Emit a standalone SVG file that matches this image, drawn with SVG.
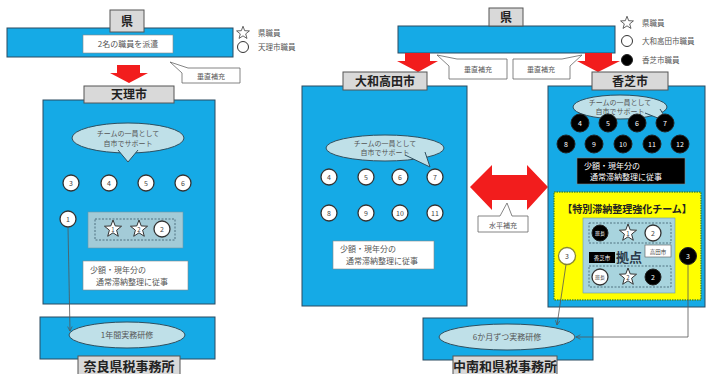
<svg xmlns="http://www.w3.org/2000/svg" width="706" height="374" viewBox="0 0 706 374">
<defs>
<style>
text{font-family:"Noto Sans CJK JP","Noto Sans",sans-serif;fill:#333}
.blue{fill:#15aae6;stroke:#2a4a60;stroke-width:1}
.lbl{fill:#d9d9d9;stroke:#555;stroke-width:1}
.lt{font-size:12px;font-weight:bold;fill:#222;text-anchor:middle}
.wbox{fill:#fff;stroke:#888;stroke-width:0.6}
.sm{font-size:7.5px;fill:#555}
.smc{font-size:7px;fill:#555;text-anchor:middle}
.ell{fill:#bfe0e8;stroke:#2f4f5f;stroke-width:1}
.wc{fill:#fff;stroke:#333;stroke-width:1.3}
.bc{fill:#000;stroke:#222;stroke-width:1}
.num{font-size:7px;text-anchor:middle;fill:#444}
.numw{font-size:7px;text-anchor:middle;fill:#fff}
.star{fill:#fff;stroke:#333;stroke-width:1}
.red{fill:#f21d1d}
.co{fill:#fff;stroke:#666;stroke-width:0.8}
.conn{fill:none;stroke:#555;stroke-width:0.8}
.dash{fill:none;stroke:#3a5a6a;stroke-width:0.8;stroke-dasharray:2,1.5}
.leg{font-size:7.5px;fill:#555}
</style>
<polygon id="st" points="0,-9 2.23,-3.07 8.56,-2.78 3.61,1.17 5.29,7.28 0,3.8 -5.29,7.28 -3.61,1.17 -8.56,-2.78 -2.23,-3.07"/>
<marker id="ar" viewBox="0 0 10 10" refX="9" refY="5" markerWidth="7" markerHeight="7" orient="auto">
<path d="M1,1 L9,5 L1,9" fill="none" stroke="#555" stroke-width="1.3"/>
</marker>
</defs>
<rect width="706" height="374" fill="#fff"/>

<!-- LEFT: 県 -->
<g id="ken-left">
<rect class="blue" x="7" y="28" width="226" height="29"/>
<rect class="lbl" x="110" y="10" width="34" height="22"/>
<text class="lt" x="127" y="26">県</text>
<rect class="wbox" x="83" y="35" width="90" height="18"/>
<text class="smc" x="128" y="47" style="font-size:8px">2名の職員を派遣</text>
</g>
<g id="legend-left">
<use href="#st" class="star" transform="translate(243,33) scale(0.75)"/>
<text class="leg" x="258" y="36">県職員</text>
<circle class="wc" cx="243" cy="47" r="5.5" style="stroke-width:1"/>
<text class="leg" x="258" y="50">天理市職員</text>
</g>
<g id="arrow-left">
<polygon class="red" points="117,65 140,65 140,73 148,73 129,83 110,73 117,73"/>
</g>
<g id="callout-left">
<path class="co" d="M188,68 H240 V83 H182 V73 L170,62 Z"/>
<text class="smc" x="211" y="79">垂直補充</text>
</g>

<!-- 天理市 -->
<g id="tenri">
<rect class="blue" x="43" y="100" width="172" height="204"/>
<rect class="lbl" x="84" y="86" width="90" height="17"/>
<text class="lt" x="129" y="99">天理市</text>
<ellipse class="ell" cx="128" cy="138" rx="56" ry="15"/>
<path class="ell" d="M118,150 L128,162 L138,150"/>
<text class="smc" x="128" y="136">チームの一員として</text>
<text class="smc" x="128" y="146">自市でサポート</text>
<circle class="wc" cx="71" cy="183" r="8"/><text class="num" x="71" y="185.5">3</text>
<circle class="wc" cx="109" cy="183" r="8"/><text class="num" x="109" y="185.5">4</text>
<circle class="wc" cx="146" cy="183" r="8"/><text class="num" x="146" y="185.5">5</text>
<circle class="wc" cx="183" cy="183" r="8"/><text class="num" x="183" y="185.5">6</text>
<circle class="wc" cx="68" cy="219" r="8"/><text class="num" x="68" y="221.5">1</text>
<rect x="88" y="212" width="95" height="36" fill="#a3cbd7" stroke="#6a98a8" stroke-width="0.6"/>
<rect class="dash" x="95" y="219" width="80" height="21"/>
<use href="#st" class="star" x="113" y="229"/><text class="num" x="113" y="232" style="font-size:6px">1</text>
<use href="#st" class="star" x="139" y="229"/><text class="num" x="139" y="232" style="font-size:6px">2</text>
<circle class="wc" cx="162" cy="229" r="8"/><text class="num" x="162" y="231.5">2</text>
<rect class="wbox" x="83" y="261" width="105" height="29"/>
<text class="sm" x="90" y="273" style="font-size:8px">少額・現年分の</text>
<text class="sm" x="96" y="285" style="font-size:8px">通常滞納整理に従事</text>
</g>

<!-- 奈良県税事務所 -->
<g id="nara">
<rect class="blue" x="40" y="317" width="175" height="42"/>
<ellipse class="ell" cx="127" cy="335" rx="58" ry="13"/>
<text class="smc" x="127" y="338" style="font-size:8px">1年間実務研修</text>
<rect class="lbl" x="78" y="356" width="102" height="22"/>
<text class="lt" x="129" y="371" style="font-size:13px">奈良県税事務所</text>
</g>

<!-- RIGHT: 県 -->
<g id="ken-right">
<rect class="blue" x="398" y="26" width="217" height="27"/>
<rect class="lbl" x="489" y="8" width="34" height="18"/>
<text class="lt" x="506" y="22">県</text>
</g>
<g id="legend-right">
<use href="#st" class="star" transform="translate(627,23) scale(0.75)"/>
<text class="leg" x="642" y="26">県職員</text>
<circle class="wc" cx="627" cy="41" r="5.5" style="stroke-width:1"/>
<text class="leg" x="642" y="44">大和高田市職員</text>
<circle class="bc" cx="627" cy="60" r="5.5"/>
<text class="leg" x="642" y="63">香芝市職員</text>
</g>
<g id="arrows-right">
<polygon class="red" points="405,53 430,53 430,61 438,61 418,72 397,61 405,61"/>
<polygon class="red" points="585,53 612,53 612,61 620,61 598,72 577,61 585,61"/>
</g>
<g id="callouts-right">
<path class="co" d="M457,59 H507 V79 H449 V66 L437,55 Z"/>
<text class="smc" x="478" y="72">垂直補充</text>
<path class="co" d="M513,59 H562 L582,55 L570,66 V79 H513 Z"/>
<text class="smc" x="541" y="72">垂直補充</text>
</g>

<!-- 大和高田市 -->
<g id="takada">
<rect class="blue" x="302" y="86" width="165" height="220"/>
<rect class="lbl" x="343" y="72" width="84" height="18"/>
<text class="lt" x="385" y="86">大和高田市</text>
<ellipse class="ell" cx="385" cy="148" rx="59" ry="13"/>
<path class="ell" d="M405,155 L430,167 L425,152"/>
<text class="smc" x="385" y="146">チームの一員として</text>
<text class="smc" x="385" y="155">自市でサポート</text>
<circle class="wc" cx="329" cy="177" r="8"/><text class="num" x="329" y="179.5">4</text>
<circle class="wc" cx="366" cy="177" r="8"/><text class="num" x="366" y="179.5">5</text>
<circle class="wc" cx="400" cy="177" r="8"/><text class="num" x="400" y="179.5">6</text>
<circle class="wc" cx="435" cy="177" r="8"/><text class="num" x="435" y="179.5">7</text>
<circle class="wc" cx="329" cy="213" r="8"/><text class="num" x="329" y="215.5">8</text>
<circle class="wc" cx="366" cy="213" r="8"/><text class="num" x="366" y="215.5">9</text>
<circle class="wc" cx="400" cy="213" r="8"/><text class="num" x="400" y="215.5">10</text>
<circle class="wc" cx="435" cy="213" r="8"/><text class="num" x="435" y="215.5">11</text>
<rect class="wbox" x="333" y="241" width="101" height="28"/>
<text class="sm" x="340" y="252" style="font-size:8px">少額・現年分の</text>
<text class="sm" x="346" y="264" style="font-size:8px">通常滞納整理に従事</text>
</g>

<!-- 水平補充 -->
<g id="horizontal">
<polygon class="red" points="470,187 492,165 492,175 527,175 527,165 548,187 527,210 527,200 492,200 492,210"/>
<path class="co" d="M478,216 H500 L507,203 L512,216 H528 V232 H478 Z"/>
<text class="smc" x="503" y="228">水平補充</text>
</g>

<!-- 香芝市 -->
<g id="kashiba">
<rect class="blue" x="548" y="86" width="157" height="221"/>
<rect class="lbl" x="592" y="72" width="76" height="18"/>
<text class="lt" x="630" y="86">香芝市</text>
<ellipse class="ell" cx="620" cy="107" rx="47" ry="12"/>
<path class="ell" d="M645,113 L668,122 L660,109"/>
<text class="smc" x="620" y="105">チームの一員として</text>
<text class="smc" x="620" y="114">自市でサポート</text>
<circle class="bc" cx="580" cy="123" r="9"/><text class="numw" x="580" y="125.5">4</text>
<circle class="bc" cx="608" cy="123" r="9"/><text class="numw" x="608" y="125.5">5</text>
<circle class="bc" cx="637" cy="123" r="9"/><text class="numw" x="637" y="125.5">6</text>
<circle class="bc" cx="665" cy="123" r="9"/><text class="numw" x="665" y="125.5">7</text>
<circle class="bc" cx="566" cy="144" r="9"/><text class="numw" x="566" y="146.5">8</text>
<circle class="bc" cx="594" cy="144" r="9"/><text class="numw" x="594" y="146.5">9</text>
<circle class="bc" cx="623" cy="144" r="9"/><text class="numw" x="623" y="146.5">10</text>
<circle class="bc" cx="652" cy="144" r="9"/><text class="numw" x="652" y="146.5">11</text>
<circle class="bc" cx="680" cy="144" r="9"/><text class="numw" x="680" y="146.5">12</text>
<rect x="577" y="158" width="108" height="26" fill="#000" stroke="#888" stroke-width="0.6"/>
<text x="584" y="169" style="font-size:8px;fill:#fff">少額・現年分の</text>
<text x="590" y="180" style="font-size:8px;fill:#fff">通常滞納整理に従事</text>
</g>

<!-- 特別滞納整理強化チーム -->
<g id="team">
<rect x="554" y="192" width="147" height="108" fill="#ffff00" stroke="#3d8a3d" stroke-width="1.4" stroke-dasharray="1.5,1"/>
<text x="627" y="213" style="font-size:10px;font-weight:bold;fill:#222;text-anchor:middle">【特別滞納整理強化チーム】</text>
<rect x="583" y="218" width="92" height="75" fill="#a8d4de" stroke="#6a98a8" stroke-width="0.6"/>
<rect class="dash" x="589" y="223" width="82" height="20"/>
<circle class="bc" cx="600" cy="233" r="8"/><text class="numw" x="600" y="235" style="font-size:5px">班長</text>
<use href="#st" class="star" x="628" y="233"/><text class="num" x="628" y="236" style="font-size:6px">1</text>
<circle class="wc" cx="653" cy="233" r="8"/><text class="num" x="653" y="235.5">2</text>
<rect x="589" y="252" width="26" height="11" fill="#000"/>
<text x="602" y="260" style="font-size:5.5px;fill:#fff;text-anchor:middle">香芝市</text>
<text x="629" y="262" style="font-size:13px;font-weight:bold;fill:#2a3a4a;text-anchor:middle">拠点</text>
<rect x="645" y="245" width="26" height="12" fill="#fff" stroke="#555" stroke-width="0.6"/>
<text x="658" y="253.5" style="font-size:5.5px;fill:#444;text-anchor:middle">高田市</text>
<rect class="dash" x="589" y="266" width="82" height="21"/>
<circle class="wc" cx="600" cy="277" r="8"/><text class="num" x="600" y="279" style="font-size:5px">班長</text>
<use href="#st" class="star" x="628" y="277"/><text class="num" x="628" y="280" style="font-size:6px">2</text>
<circle class="bc" cx="653" cy="277" r="8"/><text class="numw" x="653" y="279.5">2</text>
<circle class="wc" cx="567" cy="256" r="8.5" style="stroke:#8a8a30"/><text class="num" x="567" y="258.5">3</text>
<circle class="bc" cx="688" cy="256" r="8.5"/><text class="numw" x="688" y="258.5">3</text>
</g>

<!-- 中南和県税事務所 -->
<g id="chunanwa">
<rect class="blue" x="423" y="318" width="170" height="42"/>
<ellipse class="ell" cx="507" cy="337" rx="68" ry="13"/>
<text class="smc" x="507" y="340" style="font-size:8px">6か月ずつ実務研修</text>
<rect class="lbl" x="453" y="356" width="104" height="22"/>
<text class="lt" x="505" y="371" style="font-size:13px">中南和県税事務所</text>
</g>

<!-- connectors -->
<g id="connectors">
<path class="conn" d="M68,227 L70,331" marker-end="url(#ar)"/>
<path class="conn" d="M566,264.5 L557,325" marker-end="url(#ar)"/>
<path class="conn" d="M688,264.5 V337 H576" marker-end="url(#ar)"/>
</g>
</svg>
